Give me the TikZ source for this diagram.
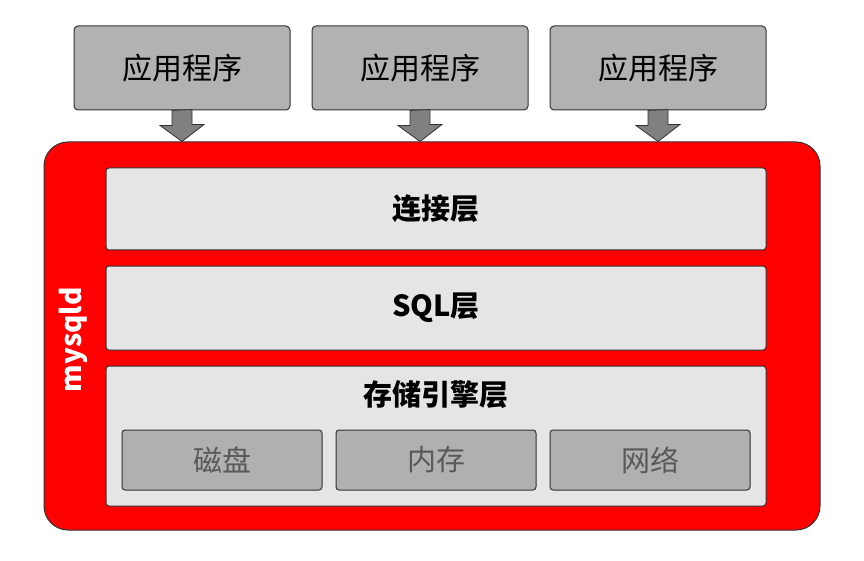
\documentclass[tikz,border=0pt]{standalone}
\usepackage{fontspec}
\setmainfont{Noto Sans CJK SC}
\begin{document}
\begin{tikzpicture}[x=1pt,y=-1pt,
  app/.style={draw=black!80,line width=1pt,fill=black!30,rounded corners=4pt,minimum width=216pt,minimum height=84pt,font=\fontsize{30}{34}\selectfont},
  layer/.style={draw=black!80,line width=1pt,fill=black!10,rounded corners=3pt,minimum width=660pt,font=\bfseries\fontsize{29}{34}\selectfont},
  dev/.style={draw=black!80,line width=1pt,fill=black!31,rounded corners=3pt,minimum width=200pt,minimum height=60pt,text=black!65,font=\fontsize{29}{34}\selectfont},
  darrow/.style={draw=black!80,fill=black!50,line width=0.8pt}]
\useasboundingbox (0,0) rectangle (864,561);
\node[draw=black!80,line width=1pt,fill=red,rounded corners=24pt,minimum width=776pt,minimum height=388pt] (mysqld) at (432,336) {};
\node[app] (a1) at (182,68) {应用程序};
\node[app] (a2) at (420,68) {应用程序};
\node[app] (a3) at (658,68) {应用程序};
\foreach \a in {a1,a2,a3}{
  \draw[darrow] ([xshift=-10pt]\a.south) -- ++(0,15) -- ++(-12,0) -- (\a.south |- mysqld.north) -- ++(22,-17) -- ++(-12,0) -- ++(0,-15) -- cycle;
}
\node[layer,minimum height=82pt] (conn) at (436,209) {连接层};
\node[layer,minimum height=84pt] (sql) at (436,308) {SQL层};
\node[layer,minimum height=140pt] (store) at (436,436) {};
\node[font=\bfseries\fontsize{29}{34}\selectfont] (storet) at (436,395) {存储引擎层};
\node[dev] (d1) at (222,460) {磁盘};
\node[dev] (d2) at (436,460) {内存};
\node[dev] (d3) at (650,460) {网络};
\node[rotate=90,text=white,font=\bfseries\fontsize{28}{32}\selectfont] (lbl) at (73,340) {mysqld};
\end{tikzpicture}
\end{document}
